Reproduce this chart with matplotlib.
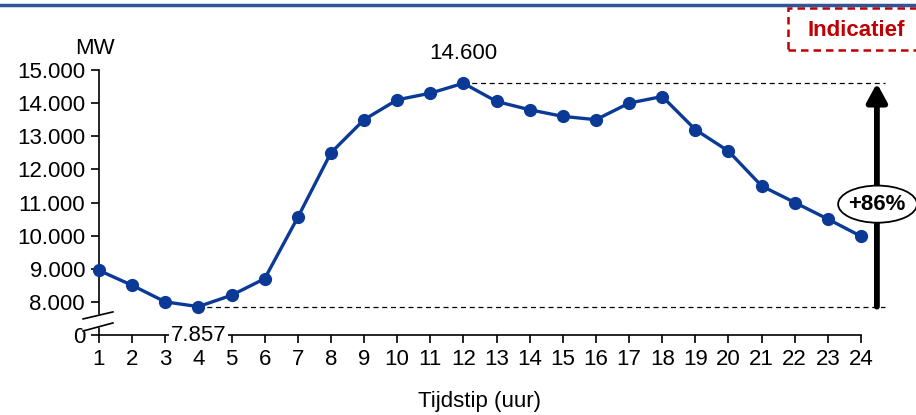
import numpy as np
import matplotlib.pyplot as plt
from matplotlib.patches import Ellipse, Rectangle
from matplotlib.lines import Line2D

plt.rcParams['font.family'] = ['Liberation Sans', 'DejaVu Sans']

# -------------------------
# Data
# -------------------------
hours = list(range(1, 25))
load_mw = [8950, 8500, 8000, 7857, 8200, 8700, 10550, 12500, 13500, 14100, 14300, 14600,
           14050, 13800, 13600, 13500, 14000, 14200, 13200, 12550, 11500, 11000, 10500, 9980]
ytick_values = [7000, 8000, 9000, 10000, 11000, 12000, 13000, 14000, 15000]
ytick_labels = ["0", "8.000", "9.000", "10.000", "11.000", "12.000", "13.000", "14.000", "15.000"]
peak_label = "14.600"
low_label = "7.857"
growth_label = "+86%"

line_color = "#0B3A96"
fs = 16

fig = plt.figure(figsize=(9.16, 4.15), dpi=100)
ax = fig.add_axes([99/916, 1 - 335/415, (861 - 99)/916, (335 - 70)/415])

ax.plot(hours, load_mw, color=line_color, lw=2.4, marker='o', ms=8.5, clip_on=False, zorder=5)

ax.set_xlim(1, 24)
ax.set_ylim(7000, 15000)
ax.set_xticks(hours)
ax.set_yticks(ytick_values)
ax.set_yticklabels(ytick_labels)
ax.tick_params(axis='both', direction='out', length=6, width=1.2, labelsize=fs, pad=4)
ax.spines['top'].set_visible(False)
ax.spines['right'].set_visible(False)
ax.spines['left'].set_linewidth(1.2)
ax.spines['bottom'].set_linewidth(1.2)
ax.set_xlabel("Tijdstip (uur)", fontsize=fs, labelpad=15)
ax.text(0.88, 15650, "MW", fontsize=fs, ha='center', va='center')

# reference lines for min and max
imax = int(np.argmax(load_mw))
imin = int(np.argmin(load_mw))
x_end = 24.72
x_arrow = 24.48
ax.plot([hours[imax], x_end], [load_mw[imax]] * 2, color='black', lw=0.9, ls=(0, (4, 3)), clip_on=False, zorder=2)
ax.plot([hours[imin], x_end], [load_mw[imin]] * 2, color='black', lw=0.9, ls=(0, (4, 3)), clip_on=False, zorder=2)

# growth arrow
ax.annotate("", xy=(x_arrow, load_mw[imax]), xytext=(x_arrow, load_mw[imin]),
            arrowprops=dict(arrowstyle='-|>,head_length=1.1,head_width=0.6', color='black', lw=4.2,
                            shrinkA=0, shrinkB=0),
            annotation_clip=False, zorder=6)
mid = 10950
ell = Ellipse((x_arrow + 0.02, mid), width=2.38, height=1120, facecolor='white', edgecolor='black',
              lw=1.3, clip_on=False, zorder=7)
ax.add_patch(ell)
ax.text(x_arrow, mid, growth_label, fontsize=fs, fontweight='bold', ha='center', va='center', zorder=8)

# value labels
ax.text(hours[imax], load_mw[imax] + 900, peak_label, fontsize=fs, ha='center', va='center')
ax.text(hours[imin], 7000, low_label, fontsize=fs, ha='center', va='center', zorder=8,
        bbox=dict(facecolor='white', edgecolor='none', pad=1))

# axis break marks
bx = [0.52, 1.42]
for y0, y1 in [(7485, 7697), (7121, 7364)]:
    ax.add_line(Line2D(bx, [y0, y1], color='black', lw=1.2, clip_on=False, zorder=9))
ax.fill([bx[0], bx[1], bx[1], bx[0]], [7485, 7697, 7364, 7121], color='white', clip_on=False, zorder=8)

# indicatief box
fig.patches.append(Rectangle((788/916, 1 - 50/415), 140/916, 42/415, transform=fig.transFigure,
                             fill=False, edgecolor='#C00000', lw=1.8, ls=(0, (3, 2))))
fig.text(856/916, 1 - 30/415, "Indicatief", color='#C00000', fontsize=fs, fontweight='bold',
         ha='center', va='center')

# header line
fig.add_artist(Line2D([0, 1], [1 - 5/415] * 2, transform=fig.transFigure, color='#2F5597', lw=2.5))

fig.savefig("out.png", dpi=100)
